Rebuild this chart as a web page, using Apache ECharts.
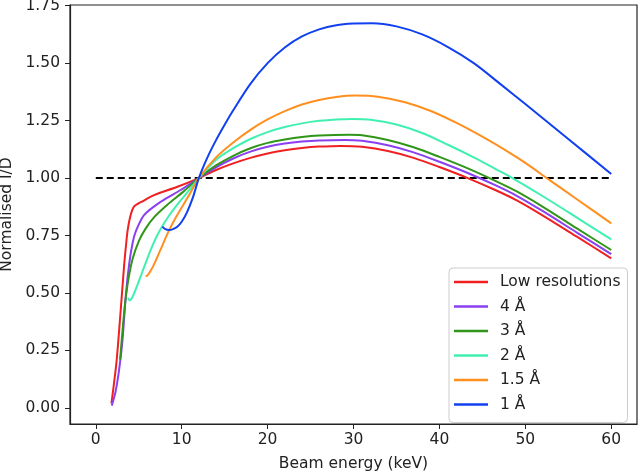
<!DOCTYPE html>
<html><head><meta charset="utf-8">
<script src="https://cdn.jsdelivr.net/npm/echarts@6/dist/echarts.min.js"></script>
<style>html,body{margin:0;padding:0;background:#fff}#c{width:640px;height:474px}</style>
</head><body><div id="c"></div>
<script>
const xTicks = [0, 10, 20, 30, 40, 50, 60];
const yTicks = [0, 0.25, 0.5, 0.75, 1.0, 1.25, 1.5, 1.75];
const seriesNames = ['Low resolutions', '4 Å', '3 Å', '2 Å', '1.5 Å', '1 Å'];

const lowResX = [1.82, 2.1, 2.44, 2.9, 3.3, 3.5, 3.7, 4.0, 4.45, 5.5, 6.78, 9.5, 12.0, 14, 16, 18, 20, 22, 24, 26, 28.5, 31, 34, 37, 40, 43.3, 46.5, 49, 52, 56, 60];
const lowResY = [0.02, 0.10, 0.21, 0.425, 0.62, 0.70, 0.77, 0.83, 0.876, 0.90, 0.926, 0.962, 1.0, 1.035, 1.064, 1.088, 1.107, 1.121, 1.131, 1.137, 1.140, 1.136, 1.118, 1.088, 1.048, 1.0, 0.948, 0.903, 0.838, 0.745, 0.651];

const res4X = [1.86, 2.3, 2.71, 3.1, 3.5, 3.9, 4.3, 4.65, 5.62, 7.56, 9.88, 12.0, 14, 16, 18, 20, 22, 24, 26, 29, 31, 34, 37, 40, 43.3, 46.5, 49, 52, 56, 60];
const res4Y = [0.01, 0.07, 0.164, 0.29, 0.49, 0.63, 0.72, 0.767, 0.839, 0.897, 0.948, 1.0, 1.047, 1.085, 1.115, 1.136, 1.150, 1.159, 1.164, 1.166, 1.162, 1.143, 1.112, 1.071, 1.022, 0.969, 0.923, 0.857, 0.763, 0.669];

const res3X = [2.83, 3.1, 3.4, 3.8, 4.3, 5.0, 5.8, 6.8, 8.3, 10.2, 12.0, 14, 16, 18, 20, 22, 24, 26, 29.5, 31, 34, 37, 40, 43.3, 46.5, 49, 52, 56, 60];
const res3Y = [0.21, 0.33, 0.45, 0.56, 0.65, 0.725, 0.78, 0.83, 0.883, 0.941, 1.0, 1.055, 1.097, 1.13, 1.153, 1.168, 1.179, 1.185, 1.188, 1.186, 1.166, 1.134, 1.092, 1.042, 0.988, 0.942, 0.876, 0.781, 0.687];

const res2X = [3.75, 3.95, 4.3, 4.8, 5.4, 6.0, 6.7, 7.5, 8.5, 9.6, 10.8, 12.0, 14, 16, 18, 20, 22, 24, 26, 28, 29.8, 32, 35, 38, 41, 44, 46.5, 48.5, 52, 56, 60];
const res2Y = [0.478, 0.468, 0.485, 0.53, 0.59, 0.65, 0.715, 0.775, 0.835, 0.89, 0.944, 1.0, 1.08, 1.13, 1.17, 1.2, 1.222, 1.238, 1.249, 1.255, 1.257, 1.254, 1.233, 1.196, 1.145, 1.09, 1.04, 1.0, 0.922, 0.828, 0.733];

const res15X = [5.81, 6.1, 6.7, 7.5, 8.5, 9.5, 10.7, 12.0, 14, 16, 18, 20, 22, 24, 26, 28, 30.2, 33, 36, 39, 42, 45, 48, 50, 52.5, 56, 60];
const res15Y = [0.572, 0.58, 0.618, 0.685, 0.77, 0.84, 0.915, 1.0, 1.09, 1.155, 1.21, 1.255, 1.291, 1.32, 1.34, 1.353, 1.359, 1.353, 1.33, 1.292, 1.24, 1.18, 1.114, 1.066, 1.0, 0.908, 0.803];

const res1X = [7.75, 8.1, 8.52, 9.0, 9.49, 10.0, 10.6, 11.3, 12.0, 13, 14, 15, 16, 18, 20, 22, 24, 26, 28, 30, 32.2, 35, 38, 41, 44, 47, 50, 55, 60];
const res1Y = [0.788, 0.778, 0.774, 0.778, 0.788, 0.81, 0.85, 0.915, 1.0, 1.09, 1.165, 1.232, 1.295, 1.41, 1.5, 1.568, 1.616, 1.647, 1.665, 1.672, 1.674, 1.66, 1.625, 1.57, 1.5, 1.412, 1.322, 1.17, 1.018];

const refX = [0, 60];
const refY = [1, 1];

const colors = ['#f02020', '#8a3ff0', '#30961a', '#40f0b0', '#ff9020', '#1040f0'];
const xs = [lowResX, res4X, res3X, res2X, res15X, res1X];
const ys = [lowResY, res4Y, res3Y, res2Y, res15Y, res1Y];

const pair = (a, b) => a.map((v, i) => [v, b[i]]);
const FONT = 'DejaVu Sans';
const FS = 15.5;

const series = [{
  type: 'line', name: 'ref', data: pair(refX, refY), showSymbol: false, silent: true,
  lineStyle: { color: '#000', width: 2, type: [7, 4] }, z: 1
}];
seriesNames.forEach((n, i) => {
  series.push({
    type: 'line', name: n, data: pair(xs[i], ys[i]), showSymbol: false,
    smooth: 0.3, color: colors[i], lineStyle: { color: colors[i], width: 2 }, z: 2 + i
  });
});

const chart = echarts.init(document.getElementById('c'), null, { renderer: 'canvas' });
chart.setOption({
  animation: false,
  backgroundColor: '#fff',
  grid: { left: 70, right: 3, top: 5, bottom: 50, show: true, borderColor: '#222', borderWidth: 1.2,
    containLabel: false, outerBoundsMode: 'none' },
  legend: {
    data: seriesNames, orient: 'vertical', left: 449, top: 268,
    padding: [6, 7, 10, 5], itemGap: 8.5, itemWidth: 34, itemHeight: 2.5, icon: 'rect',
    backgroundColor: '#fff', borderColor: '#ccc', borderWidth: 1, borderRadius: 4,
    textStyle: { fontFamily: FONT, fontSize: FS, color: '#222', lineHeight: 15, padding: [0, 0, 0, 7] }
  },
  xAxis: {
    type: 'value', min: -3, max: 63,
    name: 'Beam energy (keV)', nameLocation: 'middle', nameGap: 32,
    nameTextStyle: { fontFamily: FONT, fontSize: FS, color: '#222' },
    axisLine: { show: true, onZero: false, lineStyle: { color: '#222', width: 1.2 } },
    axisTick: { show: true, customValues: xTicks, length: 5, lineStyle: { color: '#222' } },
    axisLabel: { customValues: xTicks, margin: 8, fontFamily: FONT, fontSize: FS, color: '#222' },
    splitLine: { show: false }
  },
  yAxis: {
    type: 'value', min: -0.07, max: 1.753,
    name: 'Normalised I/D', nameLocation: 'middle', nameGap: 47, nameRotate: 90,
    nameTextStyle: { fontFamily: FONT, fontSize: FS, color: '#222' },
    axisLine: { show: true, onZero: false, lineStyle: { color: '#222', width: 1.2 } },
    axisTick: { show: true, customValues: yTicks, length: 5, lineStyle: { color: '#222' } },
    axisLabel: { customValues: yTicks, margin: 10, fontFamily: FONT, fontSize: FS, color: '#222',
      formatter: v => Number(v).toFixed(2) },
    splitLine: { show: false }
  },
  series: series
});
</script>
</body></html>
